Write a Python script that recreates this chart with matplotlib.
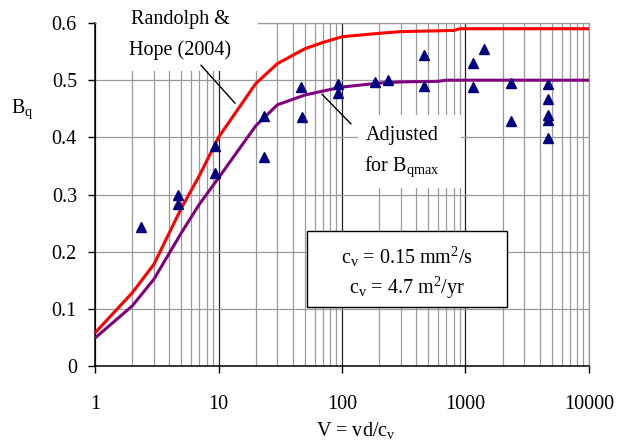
import matplotlib
matplotlib.use("Agg")
import matplotlib.pyplot as plt
from matplotlib.patches import Rectangle
from matplotlib.ticker import FixedLocator, NullFormatter

plt.rcParams['font.family'] = ['Liberation Serif', 'DejaVu Serif']
plt.rcParams['mathtext.fontset'] = 'custom'
plt.rcParams['mathtext.rm'] = 'Liberation Serif'

# Randolph & Hope (2004) curve
rh_v = [1, 2, 3, 5, 7, 10, 20, 30, 50, 70, 100, 200, 300, 500, 800, 900, 1000, 2000, 5000, 10000]
rh_bq = [0.058, 0.128, 0.178, 0.276, 0.333, 0.400, 0.494, 0.529, 0.555, 0.566, 0.576,
         0.582, 0.585, 0.586, 0.587, 0.590, 0.590, 0.590, 0.590, 0.590]

# curve adjusted for Bqmax
adj_v = [1, 2, 3, 5, 7, 10, 20, 30, 50, 70, 100, 200, 300, 600, 700, 1000, 2000, 5000, 10000]
adj_bq = [0.049, 0.105, 0.152, 0.233, 0.283, 0.329, 0.420, 0.457, 0.474, 0.481, 0.488,
          0.495, 0.497, 0.498, 0.500, 0.500, 0.500, 0.500, 0.500]

# measured piezocone data
meas_v = [2.34, 4.73, 4.73, 9.3, 9.3, 23.4, 23.4, 46.5, 47.8, 92.8, 92.8, 186, 237,
          464, 464, 1156, 1156, 1420, 2323, 2323, 4688, 4688, 4688, 4688, 4688]
meas_bq = [0.243, 0.299, 0.283, 0.385, 0.338, 0.437, 0.365, 0.488, 0.435, 0.494, 0.478,
           0.497, 0.501, 0.544, 0.489, 0.530, 0.488, 0.554, 0.495, 0.429, 0.493, 0.467,
           0.439, 0.430, 0.399]

xticks = [1, 10, 100, 1000, 10000]
xticklabels = ['1', '10', '100', '1000', '10000']
yticks = [0, 0.1, 0.2, 0.3, 0.4, 0.5, 0.6]
yticklabels = ['0', '0.1', '0.2', '0.3', '0.4', '0.5', '0.6']

fs = 14.5
grid_c = '#9a9a9a'

fig = plt.figure(figsize=(6.17, 4.41), dpi=100)
ax = fig.add_axes([0.154, 0.170, 0.8006, 0.7778])

ax.set_xscale('log')
ax.set_xlim(1, 10000)
ax.set_ylim(0, 0.6)

# grid: light minor lines, dark decade lines
minors = [m * 10 ** e for e in range(4) for m in range(2, 10)]
ax.xaxis.set_minor_locator(FixedLocator(minors))
ax.xaxis.set_minor_formatter(NullFormatter())
ax.set_xticks(xticks)
ax.set_xticklabels(xticklabels, fontsize=fs)
ax.set_yticks(yticks)
ax.set_yticklabels(yticklabels, fontsize=fs)
ax.grid(True, which='minor', axis='x', color=grid_c, lw=0.9, zorder=0)
ax.grid(True, which='major', axis='x', color='#222222', lw=0.9, zorder=0)
ax.grid(True, which='major', axis='y', color=grid_c, lw=0.9, zorder=0)
ax.set_axisbelow(True)

ax.tick_params(axis='x', which='major', direction='out', length=5, width=1, pad=16)
ax.tick_params(axis='x', which='minor', length=0)
ax.tick_params(axis='y', direction='out', length=5, width=1, pad=8)

for side in ['left', 'bottom']:
    ax.spines[side].set_color('black')
    ax.spines[side].set_linewidth(1.1)
for side in ['top', 'right']:
    ax.spines[side].set_color(grid_c)
    ax.spines[side].set_linewidth(0.9)

ax.plot(rh_v, rh_bq, color='#ff0000', lw=2.2, zorder=4, solid_capstyle='butt')
ax.plot(adj_v, adj_bq, color='#800080', lw=2.2, zorder=4, solid_capstyle='butt')
ax.plot(meas_v, meas_bq, linestyle='none', marker='^', ms=6.5, color='#000080', zorder=5)

# white label backgrounds
ax.add_patch(Rectangle((0.004, 0.86), 0.326, 0.2, transform=ax.transAxes,
                       facecolor='white', edgecolor='none', zorder=3, clip_on=False))
ax.add_patch(Rectangle((0.532, 0.519), 0.209, 0.213, transform=ax.transAxes,
                       facecolor='white', edgecolor='none', zorder=3))

ax.text(0.172, 1.009, 'Randolph &', transform=ax.transAxes, ha='center', va='center',
        fontsize=fs, zorder=6)
ax.text(0.172, 0.921, 'Hope (2004)', transform=ax.transAxes, ha='center', va='center',
        fontsize=fs, zorder=6)
ax.annotate('', xy=(14.1, 0.456), xytext=(6.95, 0.530),
            arrowprops=dict(arrowstyle='-', color='black', lw=1), zorder=6)

ax.text(0.621, 0.673, 'Adjusted', transform=ax.transAxes, ha='center', va='center',
        fontsize=fs, zorder=6)
ax.text(0.621, 0.580, r'for B$\mathregular{_{qmax}}$', transform=ax.transAxes,
        ha='center', va='center', fontsize=fs, zorder=6)
ax.annotate('', xy=(66.3, 0.479), xytext=(122.7, 0.420),
            arrowprops=dict(arrowstyle='-', color='black', lw=1), zorder=6)

# consolidation coefficient box
ax.add_patch(Rectangle((0.429, 0.172), 0.405, 0.222, transform=ax.transAxes,
                       facecolor='white', edgecolor='black', lw=1, zorder=6))
ax.text(0.632, 0.318, r'c$\mathregular{_v}$ = 0.15 mm$\mathregular{^2}$/s',
        transform=ax.transAxes, ha='center', va='center', fontsize=fs, zorder=7)
ax.text(0.632, 0.227, r'c$\mathregular{_v}$ = 4.7 m$\mathregular{^2}$/yr',
        transform=ax.transAxes, ha='center', va='center', fontsize=fs, zorder=7)

ax.text(0.528, -0.187, r'V = vd/c$\mathregular{_v}$', transform=ax.transAxes,
        ha='center', va='center', fontsize=fs)
ax.text(-0.148, 0.75, r'B$\mathregular{_q}$', transform=ax.transAxes,
        ha='center', va='center', fontsize=fs)

fig.savefig('out.png', dpi=100)
